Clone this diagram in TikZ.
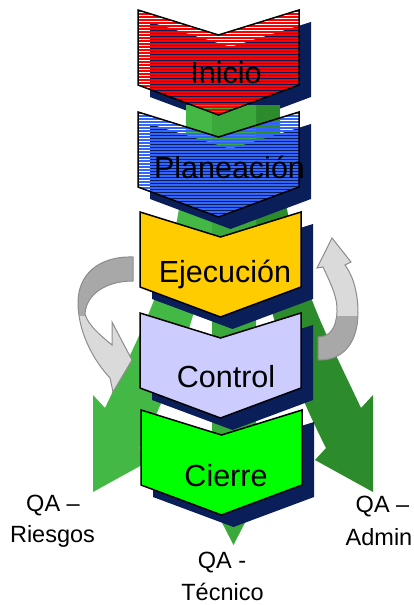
\documentclass[tikz,border=0pt]{standalone}
\usepackage{fontspec}
\setmainfont{Liberation Sans}
\definecolor{shadownavy}{RGB}{10,30,90}
\definecolor{gold}{RGB}{255,204,0}
\definecolor{lavender}{RGB}{204,204,255}
\definecolor{brightgreen}{RGB}{0,255,0}
\definecolor{stripered}{RGB}{255,0,0}
\definecolor{stripeblue}{RGB}{51,102,255}
\definecolor{greenA}{RGB}{68,184,68}
\definecolor{greenB}{RGB}{58,168,58}
\definecolor{greenC}{RGB}{44,140,44}
\definecolor{greyDark}{RGB}{168,168,168}
\definecolor{greyLight}{RGB}{218,218,218}
\definecolor{greyEdge}{RGB}{140,140,140}
\newcommand\chevshape[3]{%
  \path[#3] (#1,#2) -- ++(80.5,25) -- ++(80.5,-25) -- ++(0,75) -- ++(-80.5,30) -- ++(-80.5,-30) -- cycle;}
\newcommand\chevshadow[2]{\chevshape{#1+12}{#2+12}{fill=shadownavy}}
\newcommand\chevstripes[3]{%
  \begin{scope}
    \chevshape{#1}{#2}{clip}
    \foreach \k in {0,...,36} {\draw[#3, line width=1.5pt] (#1-2,#2+1+3*\k) -- (#1+164,#2+1+3*\k);}
  \end{scope}
  \chevshape{#1}{#2}{chevline}}
\tikzset{
  chevline/.style={draw=black, line width=1.5pt},
  stepfont/.style={font=\fontsize{30.5}{36}\selectfont, anchor=base},
  labfont/.style={font=\fontsize{23.5}{28}\selectfont, anchor=base},
  greyarrow/.style={draw=greyEdge, line width=1pt},
}
\begin{document}
\begin{tikzpicture}[x=1pt,y=-1pt]
\useasboundingbox (0,0) rectangle (414,605);
% Inicio shadow
\chevshadow{138}{10}
% green diverging arrows
\fill[greenC] (280,105) .. controls (279,250) and (314,308) .. (361,408) -- (373,395) -- (373,492) -- (315,460) -- (326,448) .. controls (271,340) and (244,230) .. (244,105) -- cycle;
\fill[greenA] (186,105) .. controls (187,250) and (152,308) .. (105,408) -- (93,395) -- (93,492) -- (151,460) -- (140,448) .. controls (195,340) and (222,230) .. (222,105) -- cycle;
\fill[greenB] (212,105) -- (212,470) -- (195,470) -- (233.5,545) -- (272,470) -- (256,470) -- (256,105) -- cycle;
% Inicio
\chevstripes{138}{10}{stripered}
\node[stepfont] (inicio) at (226,83) {Inicio};
% Planeacion
\chevshadow{138}{112}
\chevstripes{138}{112}{stripeblue}
\node[stepfont] (plan) at (229.5,178) {Planeación};
% Ejecucion
\chevshadow{140}{212}
\chevshape{140}{212}{chevline, fill=gold}
\node[stepfont] (ejec) at (225,282) {Ejecución};
% Control
\chevshadow{140}{313}
\chevshape{140}{313}{chevline, fill=lavender}
\node[stepfont] (ctrl) at (226,387) {Control};
% Cierre
\chevshadow{141}{410}
\chevshape{141}{410}{chevline, fill=brightgreen}
\node[stepfont] (cierre) at (226,486) {Cierre};
% left grey curved arrow
\begin{scope}
\clip (133,257) .. controls (98,256) and (77,275) .. (78,305) .. controls (79,335) and (95,362) .. (110,378) -- (113,392) -- (132,360) -- (112,322) -- (112,345) .. controls (100,335) and (88,325) .. (85,314) .. controls (86,295) and (105,281) .. (133,281) -- cycle;
\fill[greyDark] (70,250) rectangle (140,316);
\fill[greyLight] (70,316) rectangle (140,400);
\end{scope}
\path[greyarrow] (133,257) .. controls (98,256) and (77,275) .. (78,305) .. controls (79,335) and (95,362) .. (110,378) -- (113,392) -- (132,360) -- (112,322) -- (112,345) .. controls (100,335) and (88,325) .. (85,314) .. controls (86,295) and (105,281) .. (133,281) -- cycle;
% right grey curved arrow
\begin{scope}
\clip (318,337) -- (318,360) .. controls (345,361) and (358,340) .. (358,313) .. controls (358,292) and (353,276) .. (345,265) -- (351,262) -- (332,238) -- (317,268) -- (323,267) .. controls (330,282) and (338,298) .. (337,312) .. controls (336,328) and (330,337) .. (318,337) -- cycle;
\fill[greyLight] (310,230) rectangle (365,316);
\fill[greyDark] (310,316) rectangle (365,365);
\end{scope}
\path[greyarrow] (318,337) -- (318,360) .. controls (345,361) and (358,340) .. (358,313) .. controls (358,292) and (353,276) .. (345,265) -- (351,262) -- (332,238) -- (317,268) -- (323,267) .. controls (330,282) and (338,298) .. (337,312) .. controls (336,328) and (330,337) .. (318,337) -- cycle;
% labels
\node[labfont] (qa1a) at (53,511) {QA –};
\node[labfont] (qa1b) at (52.5,542.5) {Riesgos};
\node[labfont] (qa2a) at (222,568) {QA -};
\node[labfont] (qa2b) at (222.5,600) {Técnico};
\node[labfont] (qa3a) at (382.5,512.7) {QA –};
\node[labfont] (qa3b) at (379,545) {Admin};
\end{tikzpicture}
\end{document}
